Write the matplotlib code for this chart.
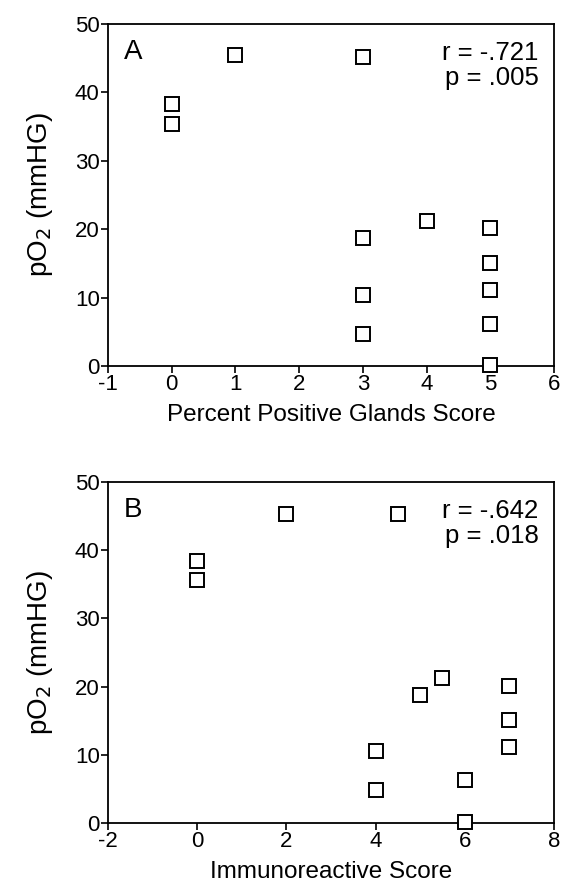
import numpy as np
import matplotlib.pyplot as plt

plt.rcParams['font.family'] = ['Liberation Sans', 'DejaVu Sans']

# Panel A: percent positive glands score vs pO2
glands_score = [0, 0, 1, 3, 3, 3, 3, 4, 5, 5, 5, 5, 5]
po2_a = [38.3, 35.4, 45.5, 45.2, 18.7, 10.4, 4.7, 21.2, 20.2, 15.1, 11.1, 6.2, 0.1]

# Panel B: immunoreactive score vs pO2
ir_score = [0, 0, 2, 4.5, 4, 4, 5, 5.5, 6, 6, 7, 7, 7]
po2_b = [38.4, 35.6, 45.3, 45.3, 10.5, 4.8, 18.8, 21.3, 6.3, 0.2, 20.1, 15.1, 11.1]

stats_a = "r = -.721\np = .005"
stats_b = "r = -.642\np = .018"


def panel(ax, x, y, xlim, xticks, xlabel, letter, stats):
    ax.plot(x, y, linestyle='none', marker='s', markersize=10,
            markerfacecolor='white', markeredgecolor='black',
            markeredgewidth=1.4, clip_on=False, zorder=3)
    ax.set_xlim(*xlim)
    ax.set_ylim(0, 50)
    ax.set_xticks(xticks)
    ax.set_xticklabels([str(t) for t in xticks])
    ax.set_yticks([0, 10, 20, 30, 40, 50])
    ax.tick_params(direction='out', length=5, width=1.2, labelsize=16,
                   pad=1)
    for s in ax.spines.values():
        s.set_linewidth(1.3)
    ax.set_xlabel(xlabel, fontsize=17.5, labelpad=6)
    ax.set_ylabel("pO$_2$ (mmHG)", fontsize=20, labelpad=14)
    ax.text(0.035, 0.955, letter, transform=ax.transAxes, fontsize=20,
            va='top', ha='left')
    ax.text(0.965, 0.95, stats, transform=ax.transAxes, fontsize=18.5,
            va='top', ha='right', linespacing=1.05)


fig = plt.figure(figsize=(5.61, 8.90), dpi=100)
ax1 = fig.add_axes([0.1925, 0.5888, 0.795, 0.3843])
ax2 = fig.add_axes([0.1925, 0.0753, 0.795, 0.3832])

panel(ax1, glands_score, po2_a, (-1, 6), [-1, 0, 1, 2, 3, 4, 5, 6],
      "Percent Positive Glands Score", "A", stats_a)
panel(ax2, ir_score, po2_b, (-2, 8), [-2, 0, 2, 4, 6, 8],
      "Immunoreactive Score", "B", stats_b)

fig.savefig("out.png", dpi=100)
